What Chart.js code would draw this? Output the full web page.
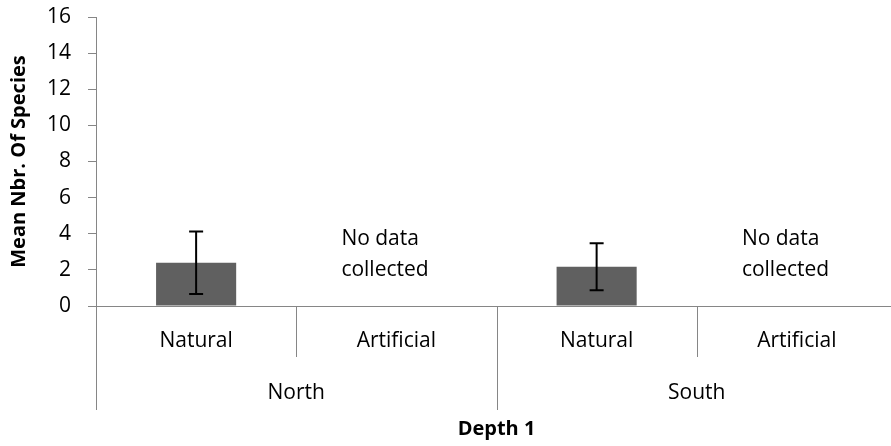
<!DOCTYPE html>
<html>
<head>
<meta charset="utf-8">
<script src="https://cdn.jsdelivr.net/npm/chart.js@4.4.0/dist/chart.umd.min.js"></script>
<style>
  body { margin: 0; background: #fff; overflow: hidden; }
  #wrap { position: relative; width: 897px; height: 446px; }
</style>
</head>
<body>
<div id="wrap"><canvas id="chart"></canvas></div>
<script>
// 데이터
const categories = ['Natural', 'Artificial', 'Natural', 'Artificial'];
const groups = ['North', 'South'];
const means = [2.4, 0, 2.17, 0];
const errors = [1.73, 0, 1.3, 0];
const noData = [false, true, false, true];
const yMax = 16;
const yStep = 2;

const FONT = '"Open Sans", sans-serif';
const AXIS_COLOR = '#868686';

// 에러바, 구분선, 라벨 그리기
const extrasPlugin = {
    id: 'extras',
    afterDatasetsDraw(chart) {
        const ctx = chart.ctx;
        const x = chart.scales.x, y = chart.scales.y;
        ctx.save();
        ctx.strokeStyle = '#000';
        ctx.lineWidth = 2;
        means.forEach(function(v, i) {
            if (!errors[i]) return;
            const cx = x.getPixelForValue(i);
            const top = y.getPixelForValue(v + errors[i]);
            const bot = y.getPixelForValue(v - errors[i]);
            ctx.beginPath();
            ctx.moveTo(cx, top); ctx.lineTo(cx, bot);
            ctx.moveTo(cx - 7, top); ctx.lineTo(cx + 7, top);
            ctx.moveTo(cx - 7, bot); ctx.lineTo(cx + 7, bot);
            ctx.stroke();
        });
        ctx.restore();
    },
    afterDraw(chart) {
        const ctx = chart.ctx;
        const x = chart.scales.x, y = chart.scales.y;
        const area = chart.chartArea;
        const base = area.bottom;
        const half = (x.getPixelForValue(1) - x.getPixelForValue(0)) / 2;
        ctx.save();

        // 구분선
        ctx.strokeStyle = AXIS_COLOR;
        ctx.lineWidth = 1;
        for (let i = 0; i <= categories.length; i++) {
            const px = Math.round(x.getPixelForValue(i) - half) + 0.5;
            const len = (i % 2 === 0) ? 104 : 51;
            if (px > chart.width) continue;
            ctx.beginPath();
            ctx.moveTo(px, base);
            ctx.lineTo(px, base + len);
            ctx.stroke();
        }

        // 하위 카테고리 라벨
        ctx.fillStyle = '#000';
        ctx.textAlign = 'center';
        ctx.textBaseline = 'middle';
        ctx.font = '21px ' + FONT;
        categories.forEach(function(c, i) {
            ctx.fillText(c, x.getPixelForValue(i), base + 35);
        });

        // 그룹 라벨
        groups.forEach(function(g, gi) {
            const cx = (x.getPixelForValue(gi * 2) + x.getPixelForValue(gi * 2 + 1)) / 2;
            ctx.fillText(g, cx, base + 87);
        });

        // 'No data collected'
        ctx.textAlign = 'left';
        noData.forEach(function(flag, i) {
            if (!flag) return;
            const lx = x.getPixelForValue(i) - 55;
            const ly = y.getPixelForValue(3.7);
            ctx.fillText('No data', lx, ly);
            ctx.fillText('collected', lx, ly + 31);
        });

        // 축 제목
        ctx.textAlign = 'center';
        ctx.font = 'bold 20px ' + FONT;
        ctx.fillText('Depth 1', (area.left + area.right) / 2, base + 123);

        ctx.translate(19, (area.top + area.bottom) / 2);
        ctx.rotate(-Math.PI / 2);
        ctx.fillText('Mean Nbr. Of Species', 0, 0);
        ctx.restore();
    }
};

const ctx = document.getElementById('chart').getContext('2d');
new Chart(ctx, {
    type: 'bar',
    data: {
        labels: categories,
        datasets: [{
            data: means,
            backgroundColor: '#606060',
            borderWidth: 0,
            categoryPercentage: 1.0,
            barPercentage: 0.4
        }]
    },
    options: {
        responsive: true,
        maintainAspectRatio: false,
        animation: false,
        layout: { padding: { top: 17, right: 0, bottom: 0, left: 0 } },
        plugins: {
            legend: { display: false },
            tooltip: { enabled: false }
        },
        scales: {
            x: {
                grid: { display: false },
                border: { display: true, color: AXIS_COLOR, width: 1 },
                ticks: { display: false },
                afterFit: function(scale) {
                    scale.height = 140;
                    scale.paddingLeft = 0;
                    scale.paddingRight = 0;
                }
            },
            y: {
                min: 0,
                max: yMax,
                ticks: {
                    stepSize: yStep,
                    color: '#000',
                    padding: 17,
                    font: { family: FONT, size: 21 }
                },
                grid: {
                    display: true,
                    drawOnChartArea: false,
                    drawTicks: true,
                    tickLength: 8,
                    color: AXIS_COLOR
                },
                border: { display: true, color: AXIS_COLOR, width: 1 },
                afterFit: function(scale) {
                    scale.width = 96;
                    scale.paddingTop = 0;
                    scale.paddingBottom = 0;
                }
            }
        }
    },
    plugins: [extrasPlugin]
});
</script>
</body>
</html>
